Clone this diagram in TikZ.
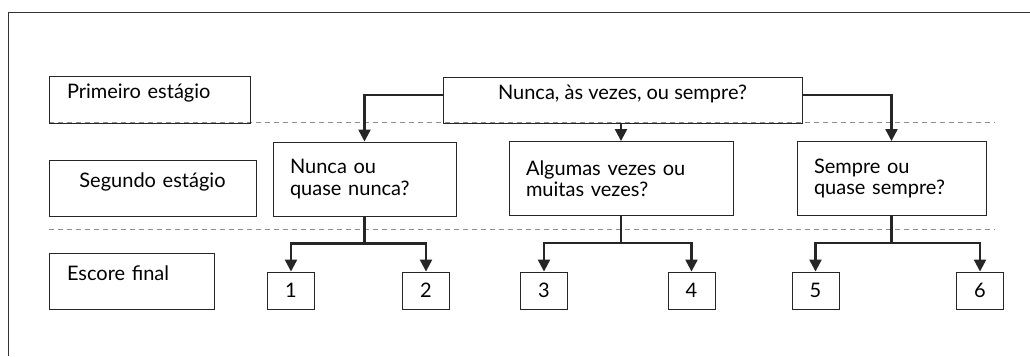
\documentclass[tikz,border=0pt]{standalone}
\usepackage{fontspec}
\setmainfont{Lato}
\usetikzlibrary{arrows.meta}
\usetikzlibrary{positioning}
\tikzset{
    stage/.style={
           rectangle,
           draw=black!85, line width=0.9pt,
           inner xsep=18pt,
           text depth=16pt,
           align=left,
           },
    question/.style={
           rectangle,
           draw=black!85, line width=0.9pt,
           inner xsep=17pt,
           minimum height=74pt,
           align=left,
           },
    score/.style={
           rectangle,
           draw=black!85, line width=0.9pt,
           minimum width=47pt,
           minimum height=37pt,
           inner sep=0pt,
           },
    branch/.style={draw=black!85, line width=2.3pt},
    sep/.style={draw=black!45, line width=0.8pt, dash pattern=on 5pt off 4pt},
    frame/.style={draw=black!80, line width=1pt},
}
\begin{document}
\begin{tikzpicture}[x=1pt, y=-1pt, font=\fontsize{20}{21.5}\selectfont,
    >={Triangle[width=12pt,length=12pt]}]
      \useasboundingbox (0,0) rectangle (1030,356);
      \draw[frame] (1030,12) -- (8,12) -- (8,356);
      \draw[sep] (49,122.5) -- (995,122.5);
      \draw[sep] (49,229) -- (995,229);
      % stages on the left
      \node[stage, text width=165pt, minimum height=47pt] (first) at (149.5,99.5) {Primeiro estágio};
      \node[stage, text width=171pt, minimum height=56pt, align=center] (second) at (152.5,188) {Segundo estágio};
      \node[stage, text width=129pt, minimum height=56pt] (final) at (131.5,281) {Escore final};
      % questions
      \node[stage, minimum width=359pt, minimum height=46pt, align=center] (q_0) at (622.5,100) {Nunca, às vezes, ou sempre?};
      \node[question, text width=149pt] (q_1) at (364.5,179) {Nunca ou\\quase nunca?};
      \node[question, text width=190pt] (q_2) at (621,178.5) {Algumas vezes ou\\muitas vezes?};
      \node[question, text width=155pt] (q_3) at (891.5,178.5) {Sempre ou\\quase sempre?};
      % scores
      \node[score] (s_1) at (291,290.5) {1};
      \node[score] (s_2) at (426,290.5) {2};
      \node[score] (s_3) at (544,290.5) {3};
      \node[score] (s_4) at (691.5,290.5) {4};
      \node[score] (s_5) at (815.5,290.5) {5};
      \node[score] (s_6) at (980,290.5) {6};
      \draw[branch, ->] ([yshift=5pt]q_0.west) -| (q_1.north);
      \draw[branch, ->] (q_0.south -| q_2.north) -- (q_2.north);
      \draw[branch, ->] ([yshift=5pt]q_0.east) -| (q_3.north);
      \foreach \q/\a/\b in {q_1/s_1/s_2, q_2/s_3/s_4, q_3/s_5/s_6} {
          \draw[branch, ->] (\q.south) -- ++(0,27) -| (\a.north);
          \draw[branch, ->] (\q.south) -- ++(0,27) -| (\b.north);
      }
\end{tikzpicture}
\end{document}
